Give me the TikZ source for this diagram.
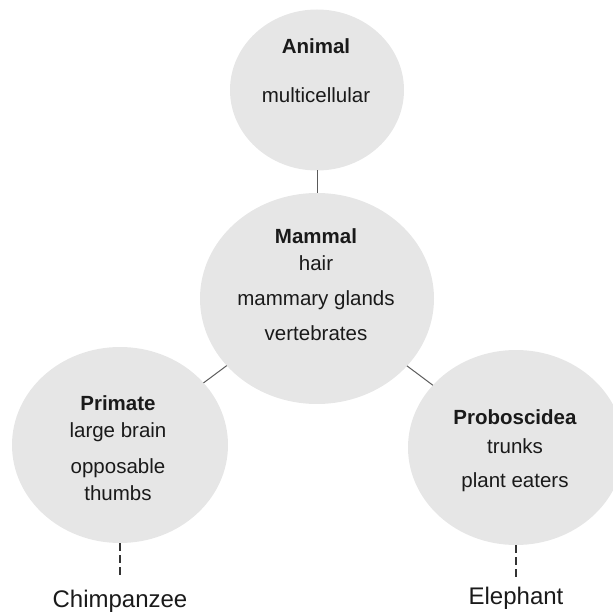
\documentclass[tikz,border=0pt]{standalone}
\usepackage{fontspec}
\setmainfont{Liberation Sans}
\usepackage{tikz}
\usetikzlibrary{shapes.geometric}
\definecolor{cladefill}{HTML}{E6E6E6}
\definecolor{cladeline}{HTML}{5A5A5A}
\definecolor{cladedash}{HTML}{333333}
\definecolor{cladetext}{HTML}{1A1A1A}

\tikzset{
  clade/.style={ellipse, fill=cladefill, draw=none, inner sep=0pt, outer sep=0pt},
  traits/.style={anchor=north, align=center, inner sep=0pt, text=cladetext,
                 font=\fontsize{20.5}{27}\selectfont},
  species/.style={anchor=base, inner sep=4pt, text=cladetext,
                  font=\fontsize{24}{28}\selectfont},
  link/.style={draw=cladeline, line width=1pt},
  dashlink/.style={draw=cladedash, line width=1.2pt, dash pattern=on 8pt off 4pt},
}

\begin{document}
\begin{tikzpicture}[x=1pt, y=-1pt]
  \useasboundingbox (0,0) rectangle (613,612);

  %% --- circles ---
  \node[clade, minimum width=174pt, minimum height=161pt] (animal)  at (317,90)    {};
  \node[clade, minimum width=234pt, minimum height=211pt] (mammal)  at (317,298.5) {};
  \node[clade, minimum width=216pt, minimum height=196pt] (primate) at (120,445)   {};
  \node[clade, minimum width=216pt, minimum height=195pt] (probos)  at (516,447.5) {};

  %% --- traits inside the circles ---
  \node[traits] (animaltxt)  at (316,38.5)
    {\textbf{Animal}\\[22pt]multicellular};
  \node[traits] (mammaltxt)  at (316,228)
    {\textbf{Mammal}\\hair\\[8pt]mammary glands\\[8pt]vertebrates};
  \node[traits] (primatetxt) at (118,395)
    {\textbf{Primate}\\large brain\\[9pt]opposable\\thumbs};
  \node[traits] (probostxt)  at (515,409.5)
    {\textbf{Proboscidea}\\[2pt]trunks\\[7pt]plant eaters};

  %% --- species ---
  \node[species] (chimp)    at (120,607) {Chimpanzee};
  \node[species] (elephant) at (516,604) {Elephant};

  %% --- connectors ---
  \draw[link] (animal) -- (mammal);
  \draw[link] (mammal) -- (primate);
  \draw[link] (mammal) -- (probos);
  \draw[dashlink, shorten >=9.5pt] (primate.south) -- (chimp.north);
  \draw[dashlink, shorten >=2.5pt] (probos.south) -- (elephant.north);
\end{tikzpicture}
\end{document}
